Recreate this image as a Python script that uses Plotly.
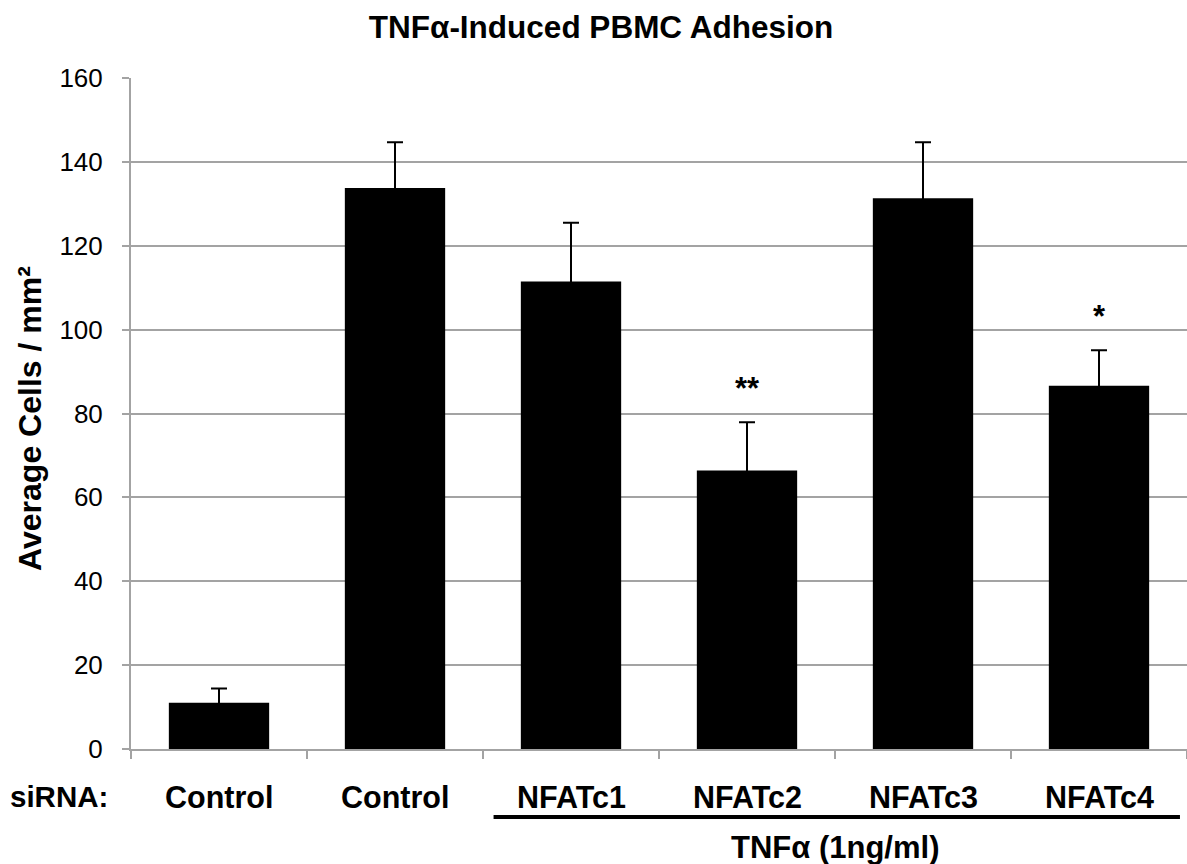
import plotly.graph_objects as go

# ---- data ----
categories = ["Control", "Control", "NFATc1", "NFATc2", "NFATc3", "NFATc4"]
means = [11.0, 133.8, 111.5, 66.4, 131.3, 86.6]
errors = [3.4, 10.9, 14.0, 11.5, 13.4, 8.5]
significance = ["", "", "", "**", "", "*"]
y_ticks = [0, 20, 40, 60, 80, 100, 120, 140, 160]
title_text = "TNFα-Induced PBMC Adhesion"
y_title = "Average Cells / mm²"
row_label = "siRNA:"
treatment_label = "TNFα (1ng/ml)"
treated = ["NFATc1", "NFATc2", "NFATc3", "NFATc4"]

FONT = "Liberation Sans, Arial, Helvetica, sans-serif"
GRID = "#a3a3a3"

xpos = list(range(len(categories)))

fig = go.Figure()
fig.add_trace(go.Bar(
    x=xpos, y=means, width=0.57,
    marker=dict(color="black", line=dict(width=0)),
    error_y=dict(type="data", array=errors, symmetric=True,
                 color="black", thickness=2, width=8),
    showlegend=False,
))

annotations = []
# category labels under the axis
for i, c in enumerate(categories):
    annotations.append(dict(x=i, xref="x", y=-0.0715, yref="paper",
                            text="<b>%s</b>" % c, showarrow=False,
                            font=dict(family=FONT, size=30.5, color="black"),
                            xanchor="center", yanchor="middle"))
# significance stars
for i, s in enumerate(significance):
    if s:
        annotations.append(dict(x=i, xref="x", y=means[i] + errors[i], yref="y",
                                text="<b>%s</b>" % s, showarrow=False,
                                font=dict(family=FONT, size=31, color="black"),
                                xanchor="center", yanchor="bottom", yshift=14))
# row label
annotations.append(dict(x=-0.068, xref="paper", y=-0.0715, yref="paper",
                        text="<b>%s</b>" % row_label, showarrow=False,
                        font=dict(family=FONT, size=29.5, color="black"),
                        xanchor="center", yanchor="middle"))
# treatment label
t_idx = [categories.index(t) for t in treated]
annotations.append(dict(x=(t_idx[0] + t_idx[-1]) / 2, xref="x", y=-0.1475, yref="paper",
                        text="<b>%s</b>" % treatment_label, showarrow=False,
                        font=dict(family=FONT, size=31, color="black"),
                        xanchor="center", yanchor="middle"))
# y-axis title
annotations.append(dict(x=-0.0956, xref="paper", y=0.492, yref="paper",
                        text="<b>%s</b>" % y_title, showarrow=False, textangle=-90,
                        font=dict(family=FONT, size=32, color="black"),
                        xanchor="center", yanchor="middle"))

shapes = [dict(type="line", xref="x", yref="paper",
               x0=t_idx[0] - 0.44, x1=t_idx[-1] + 0.46, y0=-0.1013, y1=-0.1013,
               line=dict(color="black", width=4))]

fig.update_layout(
    width=1187, height=864,
    margin=dict(l=131, r=0, t=78, b=115),
    paper_bgcolor="white", plot_bgcolor="white",
    font=dict(family=FONT, color="black"),
    title=dict(text="<b>%s</b>" % title_text, x=601 / 1187, xref="container", xanchor="center",
               y=1 - 27 / 864, yref="container", yanchor="middle",
               font=dict(family=FONT, size=31.5, color="black")),
    annotations=annotations, shapes=shapes,
    bargap=0.43,
)
fig.update_xaxes(range=[-0.5, len(categories) - 0.5], showticklabels=False,
                 tickvals=[i - 0.5 for i in range(len(categories) + 1)],
                 ticks="outside", ticklen=8, tickwidth=2, tickcolor=GRID,
                 showline=True, linecolor=GRID, linewidth=2, showgrid=False, zeroline=False)
fig.update_yaxes(range=[0, 160], tickvals=y_ticks,
                 ticks="outside", ticklen=7, tickwidth=2, tickcolor=GRID,
                 showline=True, linecolor=GRID, linewidth=2,
                 showgrid=True, gridcolor=GRID, gridwidth=2, zeroline=False,
                 tickfont=dict(family=FONT, size=26, color="black"),
                 ticklabelstandoff=14)

fig.write_html("out.html")
